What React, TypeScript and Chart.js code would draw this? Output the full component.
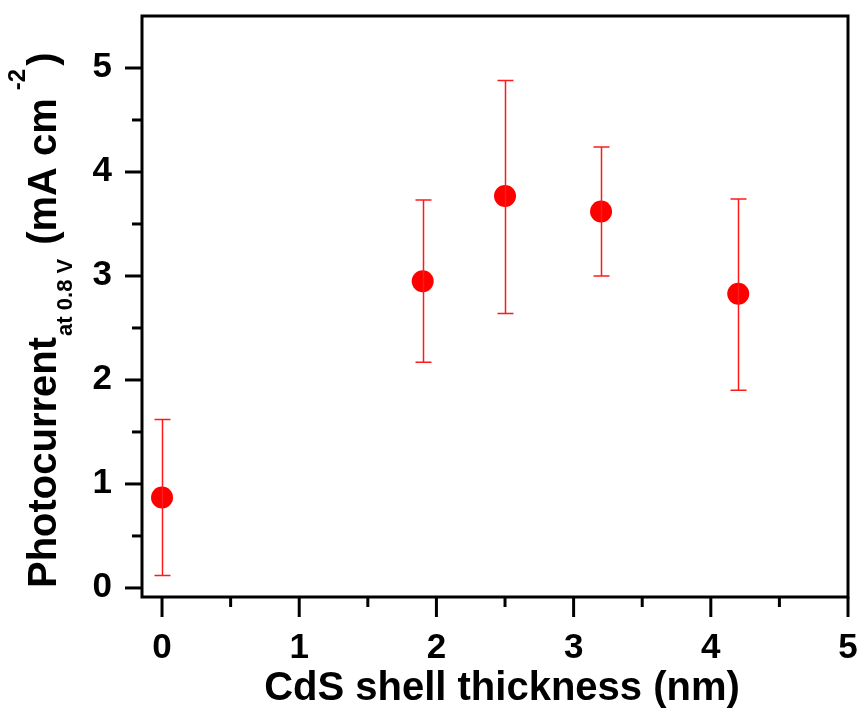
import React, { useEffect, useRef } from "react";
import { Chart, registerables } from "chart.js";

Chart.register(...registerables);

const thickness = [0, 1.9, 2.5, 3.2, 4.2];
const photocurrent = [0.87, 2.95, 3.77, 3.62, 2.83];
const errLow = [0.75, 0.78, 1.13, 0.62, 0.93];
const errHigh = [0.75, 0.78, 1.11, 0.62, 0.91];
const xTicks = [0, 1, 2, 3, 4, 5];
const yTicks = [0, 1, 2, 3, 4, 5];
const xMinor = [0.5, 1.5, 2.5, 3.5, 4.5];
const yMinor = [0.5, 1.5, 2.5, 3.5, 4.5];
const xTitle = "CdS shell thickness (nm)";
const yTitleMain = "Photocurrent";
const yTitleSub = "at 0.8 V";
const yTitleUnit = "(mA cm";
const yTitleSup = "-2";

const FONT = '"Liberation Sans", Arial, sans-serif';

const framePlugin = {
  id: "framePlugin",
  afterDatasetsDraw(chart: any) {
    const ctx = chart.ctx;
    const xs = chart.scales.x;
    const ys = chart.scales.y;
    ctx.save();
    ctx.strokeStyle = "#ff1a1a";
    ctx.lineWidth = 1.5;
    thickness.forEach((t, i) => {
      const px = Math.round(xs.getPixelForValue(t)) + 0.5;
      const hi = ys.getPixelForValue(photocurrent[i] + errHigh[i]);
      const lo = ys.getPixelForValue(photocurrent[i] - errLow[i]);
      ctx.beginPath();
      ctx.moveTo(px, hi);
      ctx.lineTo(px, lo);
      ctx.moveTo(px - 8, hi);
      ctx.lineTo(px + 8, hi);
      ctx.moveTo(px - 8, lo);
      ctx.lineTo(px + 8, lo);
      ctx.stroke();
    });
    ctx.restore();
  },
  afterDraw(chart: any) {
    const ctx = chart.ctx;
    const { left, right, top, bottom } = chart.chartArea;
    const xs = chart.scales.x;
    const ys = chart.scales.y;
    ctx.save();
    ctx.strokeStyle = "#000";
    ctx.lineWidth = 3;
    ctx.lineCap = "square";
    ctx.strokeRect(left, top, right - left, bottom - top);
    ctx.lineCap = "butt";
    xTicks.forEach((v) => {
      const p = xs.getPixelForValue(v);
      ctx.beginPath();
      ctx.moveTo(p, bottom);
      ctx.lineTo(p, bottom + 20);
      ctx.stroke();
    });
    xMinor.forEach((v) => {
      const p = xs.getPixelForValue(v);
      ctx.beginPath();
      ctx.moveTo(p, bottom);
      ctx.lineTo(p, bottom + 10);
      ctx.stroke();
    });
    yTicks.forEach((v) => {
      const p = ys.getPixelForValue(v);
      ctx.beginPath();
      ctx.moveTo(left, p);
      ctx.lineTo(left - 17, p);
      ctx.stroke();
    });
    yMinor.forEach((v) => {
      const p = ys.getPixelForValue(v);
      ctx.beginPath();
      ctx.moveTo(left, p);
      ctx.lineTo(left - 10, p);
      ctx.stroke();
    });

    // tick labels
    ctx.fillStyle = "#000";
    ctx.font = `bold 35px ${FONT}`;
    ctx.textBaseline = "alphabetic";
    ctx.textAlign = "center";
    xTicks.forEach((v) => {
      ctx.fillText(String(v), xs.getPixelForValue(v), 658);
    });
    ctx.textAlign = "right";
    yTicks.forEach((v) => {
      ctx.fillText(String(v), 112, ys.getPixelForValue(v) + 9);
    });

    // x title
    ctx.font = `bold 40px ${FONT}`;
    ctx.textAlign = "center";
    ctx.fillText(xTitle, 502, 700);

    // y title (rotated, with sub/superscript)
    ctx.translate(56, 588);
    ctx.rotate(-Math.PI / 2);
    ctx.textAlign = "left";
    let x = 0;
    const main = `bold 40px ${FONT}`;
    const small = `bold 22px ${FONT}`;
    ctx.font = main;
    ctx.fillText(yTitleMain, x, 0);
    x += ctx.measureText(yTitleMain).width + 1;
    ctx.font = small;
    ctx.fillText(yTitleSub, x, 16);
    x += ctx.measureText(yTitleSub).width + 14;
    ctx.font = main;
    ctx.fillText(yTitleUnit, x, 0);
    x += ctx.measureText(yTitleUnit).width + 8;
    ctx.font = `bold 24px ${FONT}`;
    ctx.fillText(yTitleSup, x, -31);
    x += ctx.measureText(yTitleSup).width + 3;
    ctx.font = main;
    ctx.fillText(")", x, 0);
    ctx.restore();
  },
};

export default function App() {
  const ref = useRef<HTMLCanvasElement | null>(null);
  useEffect(() => {
    if (!ref.current) return;
    const chart = new Chart(ref.current, {
      type: "scatter",
      data: {
        datasets: [
          {
            data: thickness.map((t, i) => ({ x: t, y: photocurrent[i] })),
            backgroundColor: "#ff0000",
            borderWidth: 0,
            pointRadius: 11,
            pointHoverRadius: 11,
          },
        ],
      },
      options: {
        responsive: false,
        animation: false,
        events: [],
        layout: { padding: { left: 142, top: 16, right: 13, bottom: 112 } },
        plugins: { legend: { display: false }, tooltip: { enabled: false } },
        scales: {
          x: { type: "linear", min: -0.146, max: 5, display: false },
          y: { type: "linear", min: -0.087, max: 5.5, display: false },
        },
      },
      plugins: [framePlugin],
    } as any);
    return () => chart.destroy();
  }, []);
  return (
    <div style={{ position: "absolute", left: 0, top: 0, width: 861, height: 709, background: "#fff" }}>
      <canvas ref={ref} width={861} height={709} style={{ display: "block" }} />
    </div>
  );
}
